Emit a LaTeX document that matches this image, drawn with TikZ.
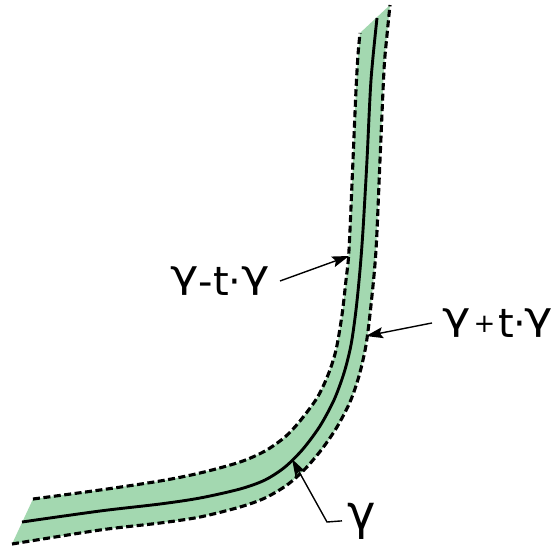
\documentclass[tikz,border=0pt]{standalone}
\usepackage{graphicx}
\usepackage{fontspec}
\setmainfont{DejaVu Sans}
\usetikzlibrary{arrows.meta}
\definecolor{band}{RGB}{163,216,176}
\newcommand\gmm{\scalebox{1.2}[0.95]{\raisebox{0.2em}{γ}}}
\begin{document}
\begin{tikzpicture}[x=1pt,y=-1pt,
  edgeline/.style={line width=3.1pt, dash pattern=on 7pt off 3.5pt},
  midline/.style={line width=2.9pt},
  arr/.style={line width=1.4pt, -{Stealth[length=17pt,width=11pt,inset=3pt]}},
  lab/.style={inner sep=0pt, font=\fontsize{40}{44}\selectfont}]
\useasboundingbox (0,0) rectangle (557,547);
% band
\fill[band] plot[smooth] coordinates {(33,499) (100,490) (160,481) (200,473) (240,462) (265,451) (285,437) (300,421) (317,398) (328,375) (336,350) (342,315) (346,280) (349,250) (353,160) (356,90) (358,55) (360,33)}
 -- plot[smooth] coordinates {(390,5) (387,35) (384,70) (380,160) (376,250) (371,305) (366,345) (359,376) (350,402) (337,427) (322,449) (305,469) (287,485) (265,498) (240,507) (200,517) (160,523) (100,530) (12,544)} -- cycle;
% edges
\draw[edgeline] plot[smooth] coordinates {(33,499) (100,490) (160,481) (200,473) (240,462) (265,451) (285,437) (300,421) (317,398) (328,375) (336,350) (342,315) (346,280) (349,250) (353,160) (356,90) (358,55) (360,33)};
\draw[edgeline] plot[smooth] coordinates {(12,544) (100,530) (160,523) (200,517) (240,507) (265,498) (287,485) (305,469) (322,449) (337,427) (350,402) (359,376) (366,345) (371,305) (376,250) (380,160) (384,70) (387,35) (390,5)};
% centre curve
\draw[midline] plot[smooth] coordinates {(22,522) (100,511) (160,504) (200,498) (240,489) (265,480) (285,467) (303,449) (320,426) (334,400) (344,373) (351,345) (356,310) (360,270) (363,230) (367,160) (371,80) (377,18)};
% labels
\node[lab, anchor=base west] (lm) at (170,295) {\gmm-t·\gmm};
\node[lab, anchor=base west] (lp) at (442,337) {\gmm\kern3pt\raisebox{5pt}{\fontsize{26}{26}\selectfont+}\kern3pt t\kern-1pt·\kern-1pt\gmm};
\node[inner sep=0pt, anchor=base west, font=\fontsize{48}{50}\selectfont] (lg) at (347,529) {γ};
% arrow targets
\coordinate (t1) at (349,256);
\coordinate (t2) at (366,336);
\coordinate (t3) at (292,459);
\coordinate (k3) at (327,522);
\draw[arr] ([xshift=10pt]lm.east) -- (t1);
\draw[arr] ([xshift=-10pt]lp.west) -- (t2);
\draw[arr] ([xshift=-5pt]lg.west) -- (k3) -- (t3);
\end{tikzpicture}
\end{document}
